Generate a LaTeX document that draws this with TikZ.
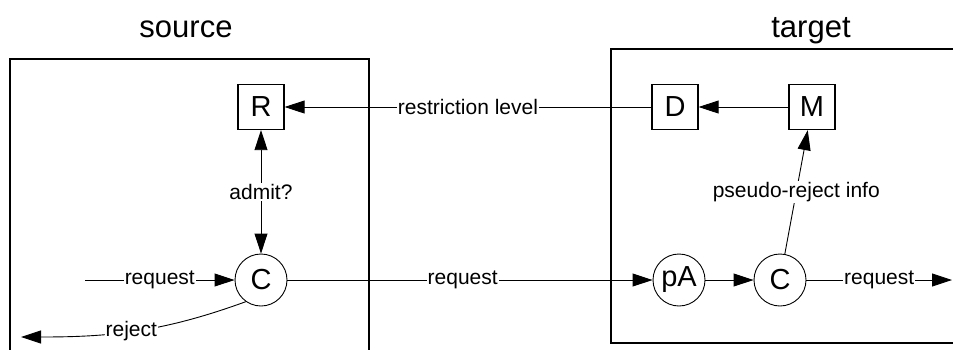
\documentclass[tikz,border=0pt]{standalone}
\usepackage{fontspec}
\setmainfont{Liberation Sans}
\usetikzlibrary{arrows.meta}
\tikzset{
  every picture/.style={x=1pt,y=-1pt},
  region/.style={draw,line width=1.6pt},
  title/.style={font=\fontsize{31}{36}\selectfont,anchor=base},
  unit/.style={draw,line width=1.3pt,minimum width=46pt,minimum height=45pt,inner sep=0pt,font=\fontsize{29}{32}\selectfont},
  stage/.style={draw,circle,line width=0.9pt,minimum size=52pt,inner sep=0pt,font=\fontsize{29}{32}\selectfont},
  tip/.tip={Triangle[length=20pt,width=13pt]},
  flow/.style={line width=0.9pt,-tip},
  lbl/.style={fill=white,inner sep=1pt,font=\fontsize{21}{24}\selectfont}
}
\begin{document}
\begin{tikzpicture}
\clip (0,0) rectangle (953,349);
\fill[white] (0,0) rectangle (953,349);

% the two domains
\draw[region] (10,365) |- (369,59) -- (369,365);
\draw[region] (965,49) -| (611,343) -- (965,343);
\node[title] (srcT) at (186,37) {source};
\node[title] (tgtT) at (811,37) {target};

% components
\node[unit] (R) at (261,107) {R};
\node[unit] (D) at (675,107) {D};
\node[unit] (M) at (812,107) {M};
\node[stage] (Cs) at (261,280) {C};
\node[stage] (pA) at (679,280) {pA};
\node[stage] (Ct) at (780,280) {C};

\coordinate (inS) at (85,280);
\coordinate (rejE) at (21,337);
\coordinate (outE) at (952,280);

% connectors
\draw[flow] (D) -- node[lbl] {restriction level} (R);
\draw[flow] (M) -- (D);
\draw[flow,tip-tip] (R) -- node[lbl] {admit?} (Cs);
\draw[flow] (inS) -- node[lbl] {request} (Cs);
\draw[flow] (Cs.235) to[out=-160,in=0] node[lbl,pos=0.52] {reject} (rejE);
\draw[flow] (Cs) -- node[lbl,pos=0.48] {request} (pA);
\draw[flow] (pA) -- (Ct);
\draw[flow] (Ct) -- node[lbl] {pseudo-reject info} (M);
\draw[flow] (Ct) -- node[lbl] {request} (outE);
\end{tikzpicture}
\end{document}
